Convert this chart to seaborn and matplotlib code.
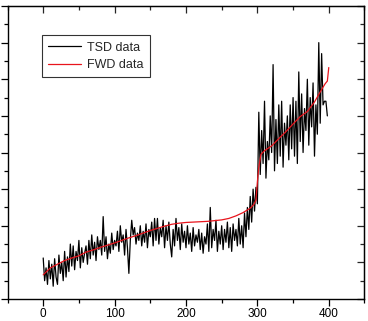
import numpy as np
import pandas as pd
import seaborn as sns
import matplotlib.pyplot as plt
from matplotlib.ticker import MultipleLocator, NullFormatter

# TSD 数据（每隔 2 个点读取）
tsd_x = np.arange(0, 400, 2)
tsd_y = [
    1.12, 0.50, 0.85, 0.40, 1.05, 0.55, 0.95, 0.35, 1.10, 0.60,
    0.40, 1.20, 0.70, 1.00, 0.50, 1.30, 0.60, 1.15, 0.75, 1.50,
    0.90, 1.45, 0.80, 1.30, 1.05, 1.60, 0.85, 1.40, 1.00, 1.25,
    1.45, 0.95, 1.60, 1.10, 1.75, 1.20, 1.55, 1.05, 1.70, 1.35,
    1.60, 1.20, 2.25, 1.30, 1.70, 1.10, 1.50, 1.25, 1.80, 1.35,
    1.60, 1.45, 1.85, 1.30, 2.00, 1.55, 1.75, 1.20, 1.90, 1.40,
    0.70, 1.60, 2.15, 1.75, 1.95, 1.50, 1.80, 1.60, 2.00, 1.45,
    1.85, 1.55, 2.05, 1.40, 1.90, 1.70, 2.10, 1.45, 2.20, 1.60,
    2.20, 1.50, 1.95, 1.70, 2.15, 1.40, 2.00, 1.60, 2.10, 1.50,
    1.15, 1.90, 1.45, 2.20, 1.60, 1.95, 1.35, 2.05, 1.55, 1.85,
    1.40, 2.00, 1.50, 1.80, 1.30, 1.95, 1.45, 1.75, 1.55, 1.90,
    1.35, 1.80, 1.25, 1.70, 1.50, 2.05, 1.30, 2.50, 1.40, 1.90,
    1.60, 2.15, 1.30, 1.85, 1.50, 2.00, 1.35, 1.90, 1.55, 2.10,
    1.40, 1.95, 1.30, 2.05, 1.60, 1.90, 1.45, 2.20, 1.50, 2.00,
    1.40, 2.35, 1.70, 2.50, 1.90, 2.80, 2.10, 3.00, 2.40, 3.05,
    2.60, 5.10, 3.40, 4.60, 3.70, 5.40, 3.30, 4.30, 3.80, 5.00,
    4.00, 6.40, 3.50, 4.90, 3.70, 5.30, 3.90, 5.40, 3.60, 4.80,
    4.20, 5.00, 3.80, 5.30, 4.10, 5.50, 3.90, 5.40, 3.70, 6.20,
    4.30, 5.60, 4.00, 5.20, 4.60, 6.00, 4.20, 5.50, 4.70, 5.90,
    3.90, 5.30, 4.50, 7.00, 4.80, 6.70, 5.30, 5.40, 5.40, 5.00,
]

# FWD 拟合曲线
fwd_x = [0, 10, 20, 30, 40, 50, 60, 70, 80, 90, 100, 110, 120, 130, 140,
         150, 160, 170, 180, 190, 200, 210, 220, 230, 240, 250, 260, 270,
         280, 290, 295, 298, 300, 302, 305, 310, 320, 330, 340, 350, 360,
         370, 380, 390, 395, 398, 400]
fwd_y = [0.66, 0.85, 0.95, 1.05, 1.12, 1.18, 1.28, 1.34, 1.41, 1.47, 1.53,
         1.60, 1.67, 1.73, 1.80, 1.87, 1.93, 1.99, 2.04, 2.07, 2.09, 2.10,
         2.11, 2.12, 2.14, 2.16, 2.20, 2.27, 2.36, 2.48, 2.58, 2.70, 3.20,
         3.60, 3.95, 4.05, 4.18, 4.38, 4.57, 4.78, 4.98, 5.12, 5.38, 5.72,
         5.88, 5.95, 6.32]

x_ticks = [0, 100, 200, 300, 400]

sns.set_style("ticks")
plt.rcParams['font.family'] = ['Liberation Sans', 'DejaVu Sans']

fig = plt.figure(figsize=(3.68, 3.21), dpi=100)
ax = fig.add_axes([0.0204, 0.0685, 0.970, 0.9128])

tsd = pd.DataFrame({"x": tsd_x, "y": tsd_y})
fwd = pd.DataFrame({"x": fwd_x, "y": fwd_y})
sns.lineplot(data=tsd, x="x", y="y", ax=ax, color="black", lw=0.9, label="TSD data")
sns.lineplot(data=fwd, x="x", y="y", ax=ax, color="#e8141c", lw=0.9, label="FWD data")

ax.set_xlim(-50, 450)
ax.set_ylim(0, 8)
ax.set_xticks(x_ticks)
ax.xaxis.set_minor_locator(MultipleLocator(50))
ax.yaxis.set_major_locator(MultipleLocator(1))
ax.yaxis.set_minor_locator(MultipleLocator(0.5))
ax.yaxis.set_major_formatter(NullFormatter())
ax.set_xlabel("")
ax.set_ylabel("")

for s in ax.spines.values():
    s.set_visible(True)
    s.set_linewidth(1.0)
    s.set_color("black")

ax.tick_params(axis="both", which="major", length=5, width=0.9, colors="black",
               labelsize=8.5, direction="out", pad=1.5)
ax.tick_params(axis="both", which="minor", length=3, width=0.9, colors="black", direction="out")

# 右侧和上方刻度朝内
ax2 = ax.secondary_xaxis("top")
ax2.set_xticks(x_ticks)
ax2.xaxis.set_minor_locator(MultipleLocator(50))
ax2.tick_params(which="major", direction="in", length=5, width=0.9, labeltop=False)
ax2.tick_params(which="minor", direction="in", length=3, width=0.9)
ax3 = ax.secondary_yaxis("right")
ax3.yaxis.set_major_locator(MultipleLocator(1))
ax3.yaxis.set_minor_locator(MultipleLocator(0.5))
ax3.tick_params(which="major", direction="in", length=5, width=0.9, labelright=False)
ax3.tick_params(which="minor", direction="in", length=3, width=0.9)

leg = ax.legend(loc="upper left", bbox_to_anchor=(0.097, 0.90), borderaxespad=0,
                fontsize=9, frameon=True, fancybox=False, handlelength=2.6,
                handletextpad=0.5, borderpad=0.5, labelspacing=0.45)
leg.get_frame().set_edgecolor("black")
leg.get_frame().set_linewidth(0.8)

fig.savefig("out.png", dpi=100)
